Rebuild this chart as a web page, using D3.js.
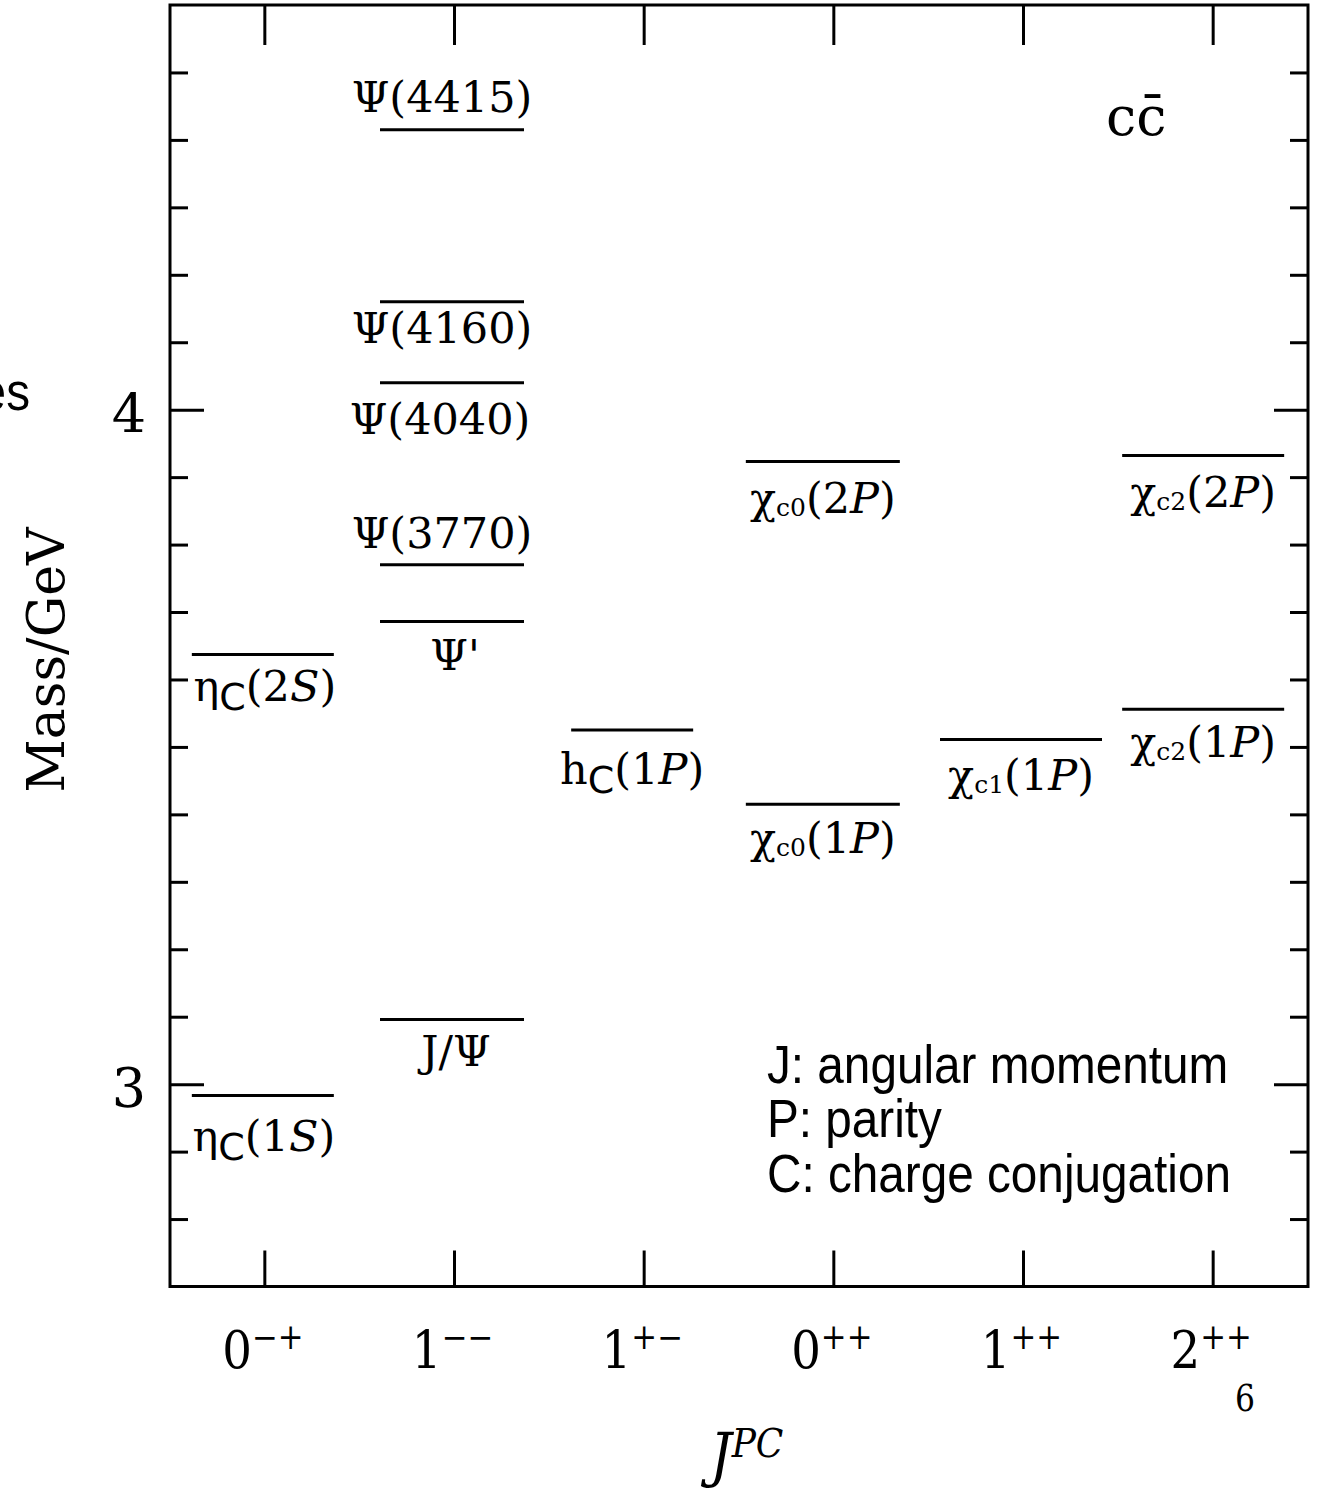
<!DOCTYPE html>
<html><head><meta charset="utf-8">
<script src="https://cdn.jsdelivr.net/npm/d3@7"></script>
<style>body{margin:0;background:#fff}svg{display:block}</style>
</head><body>
<svg id="chart" width="1320" height="1488"></svg>
<script>
// ---------- data ----------
const categories = ["0-+", "1--", "1+-", "0++", "1++", "2++"];
const categorySpin = ["0", "1", "1", "0", "1", "2"];
const categoryPC = ["\u2212+", "\u2212\u2212", "+\u2212", "++", "++", "++"];

const levelNames = ["etac1S", "etac2S", "JPsi", "Psi2S", "Psi3770", "Psi4040", "Psi4160", "Psi4415",
                    "hc1P", "chic01P", "chic02P", "chic11P", "chic21P", "chic22P"];
const levelMasses = [2.983, 3.637, 3.096, 3.686, 3.770, 4.040, 4.160, 4.415,
                     3.525, 3.415, 3.923, 3.511, 3.556, 3.932];
const levelCategory = ["0-+", "0-+", "1--", "1--", "1--", "1--", "1--", "1--",
                       "1+-", "0++", "0++", "1++", "2++", "2++"];
const levelLabels = [
  [["η"], ["C", "subC"], ["(1"], ["S", "i"], [")"]],
  [["η"], ["C", "subC"], ["(2"], ["S", "i"], [")"]],
  [["J/Ψ"]],
  [["Ψ'"]],
  [["Ψ(3770)"]],
  [["Ψ(4040)"]],
  [["Ψ(4160)"]],
  [["Ψ(4415)"]],
  [["h"], ["C", "subC"], ["(1"], ["P", "i"], [")"]],
  [["χ"], ["c0", "sub"], ["(1"], ["P", "i"], [")"]],
  [["χ"], ["c0", "sub"], ["(2"], ["P", "i"], [")"]],
  [["χ"], ["c1", "sub"], ["(1"], ["P", "i"], [")"]],
  [["χ"], ["c2", "sub"], ["(1"], ["P", "i"], [")"]],
  [["χ"], ["c2", "sub"], ["(2"], ["P", "i"], [")"]]
];
const yMajorTicks = [3, 4];
const yMinorTicks = [2.8, 2.9, 3.1, 3.2, 3.3, 3.4, 3.5, 3.6, 3.7, 3.8, 3.9, 4.1, 4.2, 4.3, 4.4, 4.5];
const legendLines = ["J: angular momentum", "P: parity", "C: charge conjugation"];

// ---------- layout (pixels, separate from data) ----------
const lineLayout = { // per category: centre shift, half width
  "0-+": {dx: -2, hw: 71}, "1--": {dx: -2.5, hw: 72}, "1+-": {dx: -12, hw: 61},
  "0++": {dx: -11, hw: 77}, "1++": {dx: -2.5, hw: 81}, "2++": {dx: -10, hw: 81}
};
const labelLayout = { // per level: label shift from line centre, baseline from line
  etac1S: [1, 55], etac2S: [2, 46], JPsi: [4, 47], Psi2S: [3, 49],
  Psi3770: [-10, -17], Psi4040: [-12, 51], Psi4160: [-10, 41], Psi4415: [-10, -18],
  hc1P: [0, 54], chic01P: [0, 49], chic02P: [0, 51], chic11P: [0, 50],
  chic21P: [0, 48], chic22P: [0, 51]
};

const SERIF = "'DejaVu Serif', serif";
const SANS = "'Liberation Sans', Arial, sans-serif";

const svg = d3.select("#chart");
const x = d3.scaleBand().domain(categories).range([170, 1308]);
const y = d3.scaleLinear().domain([2.7, 4.6]).range([1286.5, 5]);
const cx = c => x(c) + x.bandwidth() / 2;

// frame
svg.append("rect")
  .attr("x", x.range()[0]).attr("y", y.range()[1])
  .attr("width", x.range()[1] - x.range()[0]).attr("height", y.range()[0] - y.range()[1])
  .attr("fill", "none").attr("stroke", "#000").attr("stroke-width", 3);

function styleAxis(g) {
  g.select(".domain").remove();
  g.selectAll(".tick line").attr("stroke", "#000").attr("stroke-width", 3);
}
// left axis
svg.append("g").attr("transform", `translate(${x.range()[0]},0)`)
  .call(d3.axisLeft(y).tickValues(yMinorTicks).tickSize(-18).tickFormat("")).call(styleAxis);
const la = svg.append("g").attr("transform", `translate(${x.range()[0]},0)`)
  .call(d3.axisLeft(y).tickValues(yMajorTicks).tickSize(-34).tickPadding(24).tickFormat(d3.format("d")))
  .call(styleAxis);
la.selectAll(".tick text").attr("font-family", SERIF).attr("font-size", 54).attr("fill", "#000").attr("dy", "0.42em");
// right axis
svg.append("g").attr("transform", `translate(${x.range()[1]},0)`)
  .call(d3.axisRight(y).tickValues(yMinorTicks).tickSize(-18).tickFormat("")).call(styleAxis);
svg.append("g").attr("transform", `translate(${x.range()[1]},0)`)
  .call(d3.axisRight(y).tickValues(yMajorTicks).tickSize(-34).tickFormat("")).call(styleAxis);
// top / bottom axes
svg.append("g").attr("transform", `translate(0,${y.range()[1]})`)
  .call(d3.axisTop(x).tickSize(-40).tickFormat("")).call(styleAxis);
svg.append("g").attr("transform", `translate(0,${y.range()[0]})`)
  .call(d3.axisBottom(x).tickSize(-36).tickFormat("")).call(styleAxis);

// bottom category labels
const bl = svg.append("g").selectAll("g").data(categories).join("g")
  .attr("transform", d => `translate(${cx(d) - 2},1368) scale(0.88,1)`);
const blt = bl.append("text").attr("text-anchor", "middle").attr("font-family", SERIF).attr("fill", "#000");
blt.append("tspan").attr("font-size", 53).text((d, i) => categorySpin[i]);
blt.append("tspan").attr("font-size", 35).attr("dy", -19).text((d, i) => categoryPC[i]);

// levels
const levels = levelNames.map((n, i) => ({name: n, mass: levelMasses[i], cat: levelCategory[i], parts: levelLabels[i]}));
svg.append("g").selectAll("line").data(levels).join("line")
  .attr("x1", d => cx(d.cat) + lineLayout[d.cat].dx - lineLayout[d.cat].hw)
  .attr("x2", d => cx(d.cat) + lineLayout[d.cat].dx + lineLayout[d.cat].hw)
  .attr("y1", d => y(d.mass)).attr("y2", d => y(d.mass))
  .attr("stroke", "#000").attr("stroke-width", 3);

const lt = svg.append("g").selectAll("text").data(levels).join("text")
  .attr("x", d => cx(d.cat) + lineLayout[d.cat].dx + labelLayout[d.name][0])
  .attr("y", d => y(d.mass) + labelLayout[d.name][1])
  .attr("text-anchor", "middle").attr("font-family", SERIF).attr("font-size", 43).attr("fill", "#000");
lt.each(function (d) {
  const t = d3.select(this);
  let shift = 0;
  d.parts.forEach(p => {
    const s = t.append("tspan").text(p[0]);
    let ns = 0;
    if (p[1] === "i") s.attr("font-style", "italic");
    if (p[1] === "sub") { s.attr("font-size", 25); ns = 3; }
    if (p[1] === "subC") { s.attr("font-size", 38).attr("font-family", "'DejaVu Sans', sans-serif"); ns = 9; }
    if (ns !== shift) s.attr("dy", ns - shift);
    shift = ns;
  });
});

// c c-bar
svg.append("text").attr("x", 1106).attr("y", 135).attr("font-family", SERIF).attr("font-size", 54)
  .attr("fill", "#000").text("cc\u0304");

// legend
svg.append("g").attr("transform", "translate(767,0) scale(0.9,1)")
  .selectAll("text").data(legendLines).join("text")
  .attr("x", 0).attr("y", (d, i) => 1083 + i * 54.5)
  .attr("font-family", SANS).attr("font-size", 53).attr("fill", "#000").text(d => d);

// clipped fragment at left edge (cut off in the reference too)
svg.append("g").attr("transform", "translate(30,410) scale(0.9,1)")
  .append("text").attr("text-anchor", "end").attr("font-family", SANS).attr("font-size", 53)
  .attr("fill", "#000").text("es");

// y-axis title
svg.append("text").attr("transform", "translate(64,660) rotate(-90)")
  .attr("text-anchor", "middle").attr("font-family", SERIF).attr("font-size", 52).attr("fill", "#000")
  .text("Mass/GeV");

// x-axis title J^PC
const xt = svg.append("g").attr("transform", "translate(710,1476) scale(0.9,1)")
  .append("text").attr("font-family", SERIF).attr("font-style", "italic").attr("fill", "#000");
xt.append("tspan").attr("font-size", 60).text("J");
xt.append("tspan").attr("font-size", 40).attr("dy", -19).text("PC");

// small "6"
svg.append("g").attr("transform", "translate(1245,1411) scale(0.85,1)")
  .append("text").attr("text-anchor", "middle").attr("font-family", SERIF).attr("font-size", 37)
  .attr("fill", "#000").text("6");
</script>
</body></html>
